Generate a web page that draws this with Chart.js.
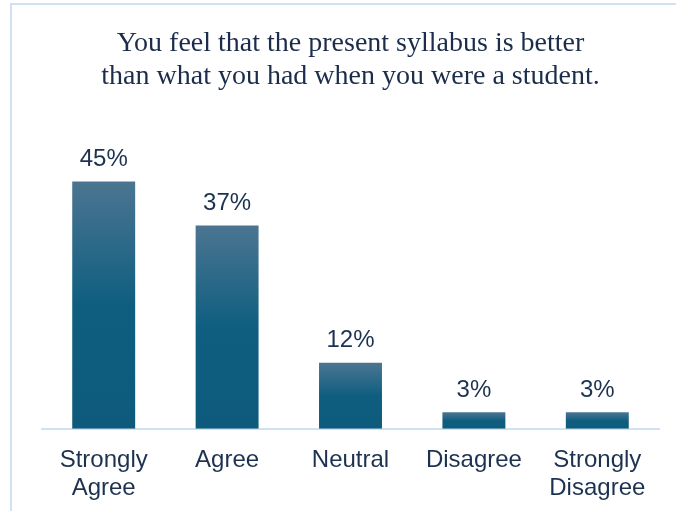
<!DOCTYPE html>
<html>
<head>
<meta charset="utf-8">
<script src="https://cdn.jsdelivr.net/npm/chart.js@4"></script>
<style>
html,body{margin:0;padding:0;background:#fff;}
#wrap{position:relative;width:676px;height:511px;}
</style>
</head>
<body>
<div id="wrap"><canvas id="c" width="676" height="511"></canvas></div>
<script>
const categories = [["Strongly","Agree"], "Agree", "Neutral", "Disagree", ["Strongly","Disagree"]];
const values = [45, 37, 12, 3, 3];
const titleLines = ["You feel that the present syllabus is better", "than what you had when you were a student."];

const frame = {
  id: 'frame',
  beforeDraw(chart) {
    const ctx = chart.ctx;
    ctx.save();
    ctx.fillStyle = '#fff';
    ctx.fillRect(0, 0, chart.width, chart.height);
    ctx.fillStyle = '#cfe1f3';
    ctx.fillRect(10, 3, chart.width - 10, 2);
    ctx.fillRect(10, 3, 2, chart.height - 3);
    ctx.restore();
  }
};

const barGradients = {
  id: 'barGradients',
  beforeDatasetsDraw(chart) {
    const ctx = chart.ctx;
    chart.getDatasetMeta(0).data.forEach(el => {
      const top = el.y, bottom = el.base;
      const g = ctx.createLinearGradient(0, top, 0, bottom);
      g.addColorStop(0, '#4b7591');
      g.addColorStop(0.5, '#0f5e80');
      g.addColorStop(1, '#0d5a7c');
      const opts = Object.assign({}, el.options);
      opts.backgroundColor = g;
      el.options = opts;
    });
  }
};

const valueLabels = {
  id: 'valueLabels',
  afterDatasetsDraw(chart) {
    const ctx = chart.ctx;
    const meta = chart.getDatasetMeta(0);
    ctx.save();
    ctx.font = '24px "Liberation Sans", Arial, sans-serif';
    ctx.fillStyle = '#1d3250';
    ctx.textAlign = 'center';
    ctx.textBaseline = 'bottom';
    meta.data.forEach((bar, i) => {
      ctx.fillText(values[i] + '%', bar.x, bar.y - 10);
    });
    ctx.restore();
  }
};

new Chart(document.getElementById('c'), {
  type: 'bar',
  data: {
    labels: categories,
    datasets: [{
      data: values,
      backgroundColor: () => '#0e5b7e',
      borderWidth: 0,
      categoryPercentage: 1,
      barPercentage: 0.51
    }]
  },
  options: {
    responsive: false,
    animation: false,
    devicePixelRatio: 1,
    layout: { padding: { left: 42, right: 17, top: 0, bottom: -9 } },
    plugins: {
      legend: { display: false },
      tooltip: { enabled: false },
      title: {
        display: true,
        text: titleLines,
        color: '#1b2d4b',
        font: { family: '"Liberation Serif", "Times New Roman", serif', size: 28, weight: 'normal', lineHeight: 1.18 },
        padding: { top: 27, bottom: 61 }
      }
    },
    scales: {
      x: {
        grid: { display: false, drawTicks: false },
        border: { display: true, color: '#cfe1f3', width: 2 },
        ticks: {
          color: '#1d3250',
          padding: 18,
          maxRotation: 0,
          autoSkip: false,
          font: { family: '"Liberation Sans", Arial, sans-serif', size: 24, lineHeight: 1.15 }
        }
      },
      y: {
        display: false,
        min: 0,
        max: 50
      }
    }
  },
  plugins: [frame, barGradients, valueLabels]
});
</script>
</body>
</html>
